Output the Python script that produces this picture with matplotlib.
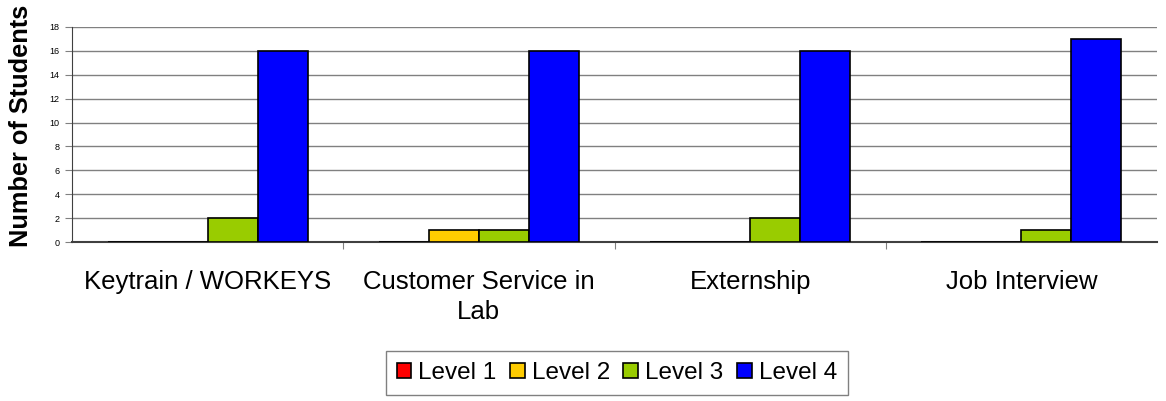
import matplotlib.pyplot as plt
import numpy as np

# data
categories = ['Keytrain / WORKEYS', 'Customer Service in\nLab', 'Externship', 'Job Interview']
levels = ['Level 1', 'Level 2', 'Level 3', 'Level 4']
level1 = [0, 0, 0, 0]
level2 = [0, 1, 0, 0]
level3 = [2, 1, 2, 1]
level4 = [16, 16, 16, 17]
colors = ['#FF0000', '#FFCC00', '#99CC00', '#0000FF']

plt.rcParams['font.family'] = ['Liberation Sans', 'DejaVu Sans']

fig = plt.figure(figsize=(11.66, 4.01), dpi=100)
ax = fig.add_axes([72 / 1166, 1 - 242 / 401, 1085 / 1166, 215 / 401])

x = np.arange(len(categories))
w = 50 / 271
for j, (vals, lab, col) in enumerate(zip([level1, level2, level3, level4], levels, colors)):
    ax.bar(x + (j - 1.5) * w, vals, width=w, color=col, edgecolor='black',
           linewidth=1.2, label=lab, zorder=3)

ax.set_xlim(-0.5, 3.5)
ax.set_ylim(0, 18)
ax.set_yticks(range(0, 19, 2))
ax.yaxis.grid(True, color='#808080', linewidth=1, zorder=0)
ax.tick_params(axis='y', labelsize=6.5, length=5, width=0.8, color='#808080', pad=4)

ax.set_xticks(x)
ax.set_xticklabels(categories, fontsize=18.5, linespacing=1.35)
ax.tick_params(axis='x', which='major', length=0, pad=20)
ax.set_xticks([0.5, 1.5, 2.5], minor=True)
ax.tick_params(axis='x', which='minor', length=5, width=0.8, color='#808080')

for s in ['top', 'right']:
    ax.spines[s].set_visible(False)
ax.spines['left'].set_color('#404040')
ax.spines['bottom'].set_color('#404040')
ax.spines['bottom'].set_linewidth(1.5)

# y label fills the whole height on the left, as in the original
fig.text(21 / 1166, 1 - 126 / 401, 'Number of Students', rotation=90, fontsize=18.3,
         fontweight='bold', ha='center', va='center')

fig.legend(loc='upper center', bbox_to_anchor=(0.529, 0.124), ncol=4, fontsize=17.5,
           frameon=True, fancybox=False, edgecolor='#808080', framealpha=1,
           handlelength=0.6, handleheight=0.6, handletextpad=0.3,
           columnspacing=0.55, borderpad=0.45, borderaxespad=0)

plt.savefig('out.png', dpi=100)
